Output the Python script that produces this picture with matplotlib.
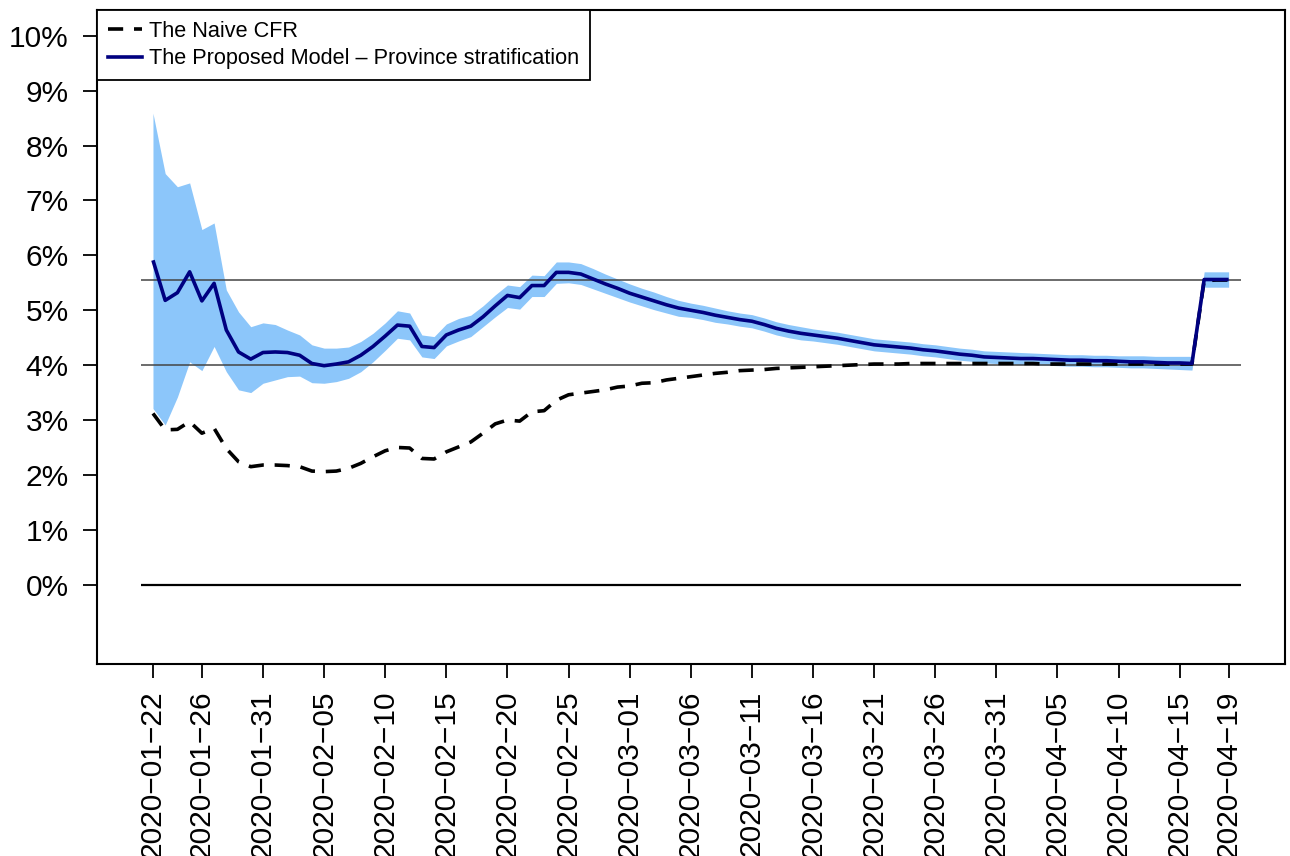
import numpy as np
import pandas as pd
import matplotlib
matplotlib.use("Agg")
import matplotlib.pyplot as plt
from matplotlib.lines import Line2D

plt.rcParams['font.family'] = ['Liberation Sans', 'DejaVu Sans']

# Daily series, 2020-01-22 .. 2020-04-19 (values in %)
dates = pd.date_range('2020-01-22', '2020-04-19', freq='D')

naive_cfr = [
    3.12, 2.82, 2.83, 2.97, 2.76, 2.85, 2.48, 2.24, 2.15, 2.18,
    2.18, 2.17, 2.15, 2.07, 2.06, 2.07, 2.12, 2.21, 2.33, 2.44,
    2.50, 2.49, 2.30, 2.29, 2.42, 2.51, 2.60, 2.76, 2.93, 3.00,
    2.98, 3.15, 3.17, 3.36, 3.46, 3.49, 3.52, 3.55, 3.60, 3.62,
    3.67, 3.68, 3.73, 3.76, 3.79, 3.82, 3.85, 3.87, 3.90, 3.91,
    3.92, 3.94, 3.95, 3.96, 3.97, 3.98, 3.99, 4.00, 4.01, 4.02,
    4.02, 4.02, 4.03, 4.03, 4.03, 4.03, 4.03, 4.03, 4.03, 4.03,
    4.03, 4.03, 4.03, 4.02, 4.02, 4.02, 4.02, 4.02, 4.02, 4.02,
    4.02, 4.02, 4.02, 4.02, 4.02, 4.02, 5.54, 5.55, 5.55,
]

model_cfr = [
    5.91, 5.18, 5.32, 5.70, 5.17, 5.49, 4.64, 4.24, 4.11, 4.23,
    4.24, 4.23, 4.18, 4.03, 3.99, 4.02, 4.06, 4.18, 4.34, 4.53,
    4.73, 4.71, 4.34, 4.32, 4.55, 4.64, 4.71, 4.88, 5.08, 5.27,
    5.23, 5.45, 5.45, 5.69, 5.69, 5.66, 5.57, 5.48, 5.40, 5.31,
    5.24, 5.17, 5.10, 5.04, 5.00, 4.96, 4.91, 4.87, 4.83, 4.80,
    4.74, 4.67, 4.62, 4.58, 4.55, 4.52, 4.49, 4.45, 4.41, 4.37,
    4.35, 4.33, 4.31, 4.28, 4.26, 4.23, 4.20, 4.18, 4.15, 4.14,
    4.13, 4.12, 4.12, 4.11, 4.10, 4.09, 4.09, 4.08, 4.08, 4.07,
    4.06, 4.06, 4.05, 4.04, 4.04, 4.03, 5.56, 5.56, 5.56,
]

model_upper = [
    8.59, 7.49, 7.25, 7.32, 6.47, 6.59, 5.37, 4.97, 4.70, 4.77,
    4.74, 4.64, 4.55, 4.37, 4.31, 4.31, 4.33, 4.43, 4.58, 4.77,
    4.99, 4.95, 4.55, 4.52, 4.75, 4.85, 4.91, 5.08, 5.28, 5.46,
    5.43, 5.64, 5.63, 5.88, 5.88, 5.85, 5.76, 5.66, 5.57, 5.48,
    5.40, 5.33, 5.25, 5.18, 5.13, 5.09, 5.04, 4.99, 4.95, 4.92,
    4.86, 4.79, 4.74, 4.70, 4.66, 4.63, 4.60, 4.56, 4.52, 4.48,
    4.46, 4.44, 4.42, 4.39, 4.37, 4.34, 4.31, 4.29, 4.26, 4.25,
    4.24, 4.23, 4.22, 4.21, 4.20, 4.19, 4.19, 4.18, 4.18, 4.17,
    4.17, 4.17, 4.16, 4.16, 4.16, 4.16, 5.70, 5.70, 5.70,
]

model_lower = [
    3.21, 2.91, 3.42, 4.06, 3.90, 4.34, 3.88, 3.55, 3.50, 3.67,
    3.73, 3.79, 3.80, 3.68, 3.67, 3.70, 3.76, 3.88, 4.06, 4.27,
    4.49, 4.46, 4.15, 4.12, 4.35, 4.44, 4.52, 4.70, 4.88, 5.05,
    5.02, 5.25, 5.25, 5.49, 5.50, 5.47, 5.39, 5.31, 5.23, 5.15,
    5.08, 5.01, 4.95, 4.89, 4.87, 4.83, 4.78, 4.75, 4.71, 4.68,
    4.62, 4.55, 4.50, 4.46, 4.44, 4.41, 4.38, 4.34, 4.30, 4.26,
    4.24, 4.22, 4.20, 4.17, 4.15, 4.12, 4.09, 4.07, 4.04, 4.03,
    4.02, 4.01, 4.01, 4.00, 3.99, 3.98, 3.98, 3.97, 3.97, 3.96,
    3.95, 3.95, 3.94, 3.93, 3.92, 3.91, 5.42, 5.42, 5.42,
]

# Reference levels drawn across the plotting region
ref_levels = [4.0, 5.56]

tick_dates = [
    '2020-01-22', '2020-01-26', '2020-01-31', '2020-02-05', '2020-02-10',
    '2020-02-15', '2020-02-20', '2020-02-25', '2020-03-01', '2020-03-06',
    '2020-03-11', '2020-03-16', '2020-03-21', '2020-03-26', '2020-03-31',
    '2020-04-05', '2020-04-10', '2020-04-15', '2020-04-19',
]
y_ticks = list(range(0, 11))

# Create figure
fig = plt.figure(figsize=(12.9, 8.56), dpi=100)
ax = fig.add_axes([0.075, 0.2243, 0.921, 0.764])

day = pd.Timedelta(days=1)
x0, x1 = dates[0] - day, dates[-1] + day
line_kw = dict(lw=2.6, solid_capstyle='butt')

ax.fill_between(dates, model_lower, model_upper, color='#8cc6fa', lw=0)
ax.hlines(0, x0, x1, color='black', lw=1.6)
ax.hlines(ref_levels, x0, x1, color='#444444', lw=1.1)
ax.plot(dates, naive_cfr, color='black', ls=(0, (4.2, 3.0)), **line_kw)
ax.plot(dates, model_cfr, color='#000080', **line_kw)

# Axis limits and ticks
ax.set_xlim(dates[0] - 4.6 * day, dates[0] + 92.6 * day)
ax.set_ylim(-1.445, 10.47)

ax.set_yticks(y_ticks)
ax.set_yticklabels([f'{v}%' for v in y_ticks])
ax.set_xticks(pd.to_datetime(tick_dates))
ax.set_xticklabels([d.replace('-', '\u2212') for d in tick_dates], rotation=90)

ax.tick_params(axis='both', labelsize=21.5, width=1.3, length=10, pad=10)
ax.tick_params(axis='x', pad=9)
for sp in ax.spines.values():
    sp.set_linewidth(1.5)

handles = [
    Line2D([], [], color='black', lw=2.6, ls=(0, (4.2, 3.0))),
    Line2D([], [], color='#000080', lw=2.6),
]
labels = ['The Naive CFR', 'The Proposed Model \u2013 Province stratification']
leg = ax.legend(handles, labels, loc='upper left', fontsize=15.6,
                frameon=True, fancybox=False, framealpha=1, edgecolor='black',
                borderaxespad=0, handlelength=1.6, handletextpad=0.33,
                borderpad=0.5, labelspacing=0.3)
leg.get_frame().set_linewidth(1.3)

plt.savefig('out.png', dpi=100)
plt.close()
